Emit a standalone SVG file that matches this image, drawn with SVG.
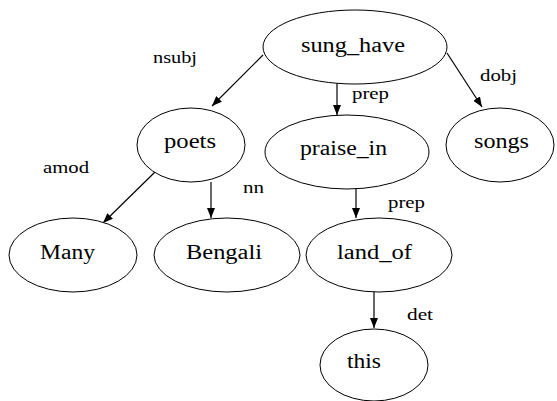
<svg xmlns="http://www.w3.org/2000/svg" width="557" height="401" viewBox="0 0 557 401">
<defs>
<marker id="ah" viewBox="0 0 10 8" refX="10" refY="4" markerWidth="10" markerHeight="8" markerUnits="userSpaceOnUse" orient="auto">
<path d="M0,0 L10,4 L0,8 Z" fill="#000"/>
</marker>
<style>
ellipse{fill:#fff;stroke:#000;stroke-width:1}
.n{font-size:20px;fill:#000}
.l{font-size:16px;fill:#000}
.e line{stroke:#000;stroke-width:1.2;marker-end:url(#ah)}
</style>
</defs>
<rect width="557" height="401" fill="#fff"/>
<g class="e" id="edges">
<line x1="263" y1="55" x2="212" y2="106"/>
<line x1="337" y1="83" x2="337" y2="115"/>
<line x1="447" y1="53" x2="482" y2="107"/>
<line x1="155" y1="172" x2="103" y2="223"/>
<line x1="211" y1="182" x2="211" y2="218"/>
<line x1="356" y1="188" x2="356" y2="218"/>
<line x1="374" y1="292" x2="374" y2="328"/>
</g>
<g id="labels" font-family="Liberation Serif, DejaVu Serif, serif">
<text class="l" x="153" y="63" textLength="44" lengthAdjust="spacingAndGlyphs">nsubj</text>
<text class="l" x="352" y="99" textLength="37" lengthAdjust="spacingAndGlyphs">prep</text>
<text class="l" x="480" y="81" textLength="37" lengthAdjust="spacingAndGlyphs">dobj</text>
<text class="l" x="43" y="173" textLength="46" lengthAdjust="spacingAndGlyphs">amod</text>
<text class="l" x="243" y="193" textLength="21" lengthAdjust="spacingAndGlyphs">nn</text>
<text class="l" x="388" y="208" textLength="37" lengthAdjust="spacingAndGlyphs">prep</text>
<text class="l" x="407" y="320" textLength="26" lengthAdjust="spacingAndGlyphs">det</text>
</g>
<g id="nodes" font-family="Liberation Serif, DejaVu Serif, serif">
<g id="sung_have"><ellipse cx="355" cy="47" rx="92" ry="37"/><text class="n" x="301" y="52" textLength="104" lengthAdjust="spacingAndGlyphs">sung_have</text></g>
<g id="poets"><ellipse cx="191" cy="145" rx="54" ry="37"/><text class="n" x="164" y="148" textLength="52" lengthAdjust="spacingAndGlyphs">poets</text></g>
<g id="praise_in"><ellipse cx="347" cy="152" rx="82" ry="37"/><text class="n" x="300" y="155" textLength="87" lengthAdjust="spacingAndGlyphs">praise_in</text></g>
<g id="songs"><ellipse cx="500" cy="145" rx="54" ry="37"/><text class="n" x="474" y="148" textLength="55" lengthAdjust="spacingAndGlyphs">songs</text></g>
<g id="Many"><ellipse cx="73" cy="255" rx="64" ry="37"/><text class="n" x="40" y="259" textLength="55" lengthAdjust="spacingAndGlyphs">Many</text></g>
<g id="Bengali"><ellipse cx="227" cy="255" rx="73" ry="37"/><text class="n" x="186" y="259" textLength="76" lengthAdjust="spacingAndGlyphs">Bengali</text></g>
<g id="land_of"><ellipse cx="379" cy="255" rx="73" ry="37"/><text class="n" x="337" y="259" textLength="75" lengthAdjust="spacingAndGlyphs">land_of</text></g>
<g id="this"><ellipse cx="374" cy="365" rx="54" ry="36"/><text class="n" x="347" y="368" textLength="34" lengthAdjust="spacingAndGlyphs">this</text></g>
</g>
</svg>
